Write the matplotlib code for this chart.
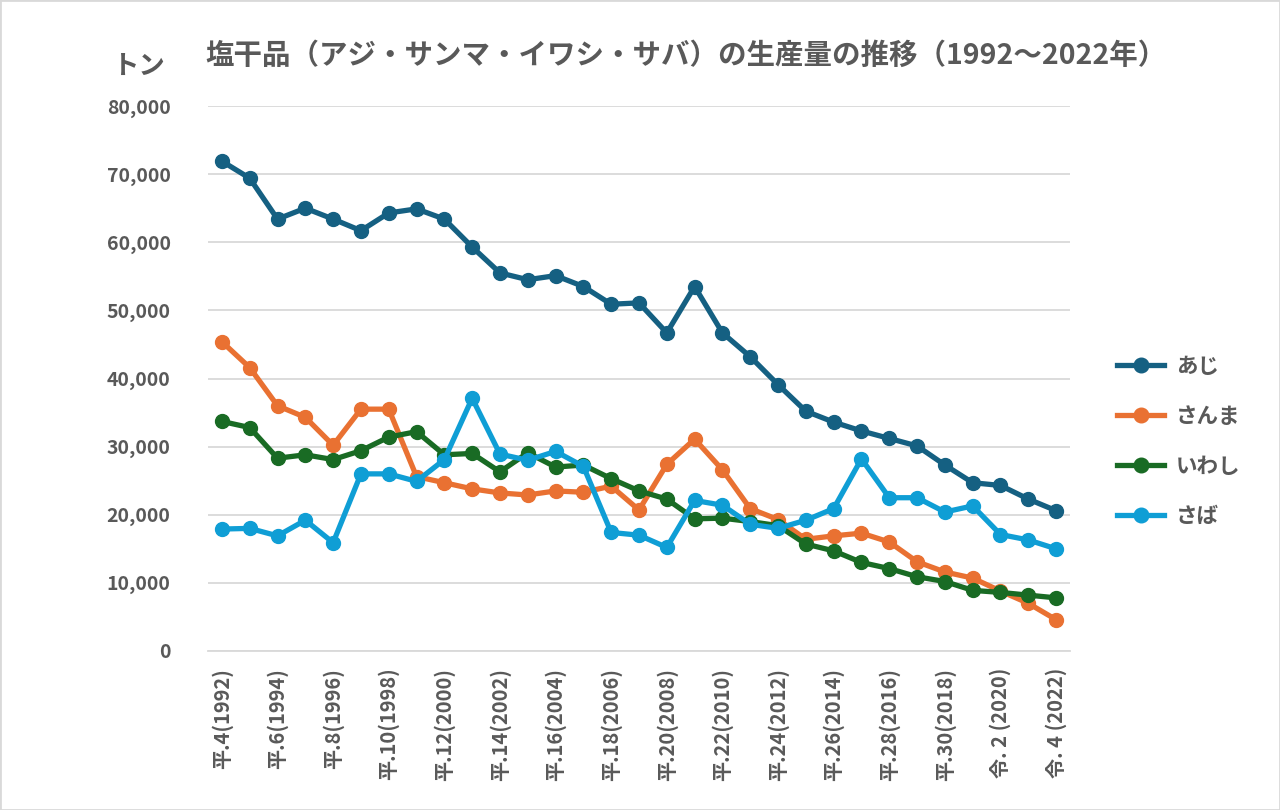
import matplotlib
matplotlib.use("Agg")
import matplotlib.pyplot as plt
from matplotlib.patches import Rectangle

plt.rcParams['font.family'] = ['Noto Sans CJK JP', 'DejaVu Sans']

years = list(range(1992, 2023))
tick_labels = ['平.4(1992)', '平.6(1994)', '平.8(1996)', '平.10(1998)', '平.12(2000)',
               '平.14(2002)', '平.16(2004)', '平.18(2006)', '平.20(2008)', '平.22(2010)',
               '平.24(2012)', '平.26(2014)', '平.28(2016)', '平.30(2018)',
               '令. 2 (2020)', '令. 4 (2022)']

aji = [71900, 69400, 63400, 65000, 63400, 61700, 64300, 64900, 63400, 59300,
       55500, 54500, 55100, 53500, 50900, 51100, 46700, 53500, 46700, 43200,
       39100, 35200, 33600, 32300, 31200, 30100, 27300, 24700, 24300, 22300, 20600]
sanma = [45400, 41600, 36000, 34300, 30200, 35500, 35500, 25600, 24700, 23800,
         23200, 22900, 23500, 23300, 24200, 20700, 27400, 31100, 26600, 20900,
         19300, 16400, 16900, 17300, 16000, 13100, 11600, 10700, 8800, 7000, 4600]
iwashi = [33700, 32800, 28300, 28800, 28100, 29400, 31400, 32200, 28800, 29000,
          26300, 29100, 27000, 27300, 25300, 23500, 22300, 19400, 19500, 19000,
          18400, 15700, 14700, 13000, 12100, 10900, 10200, 8900, 8600, 8200, 7800]
saba = [17900, 18000, 16900, 19200, 15900, 26000, 26000, 24900, 28100, 37100,
        28900, 28000, 29300, 27100, 17400, 17000, 15200, 22100, 21400, 18600,
        18000, 19200, 20900, 28200, 22500, 22500, 20400, 21300, 17100, 16300, 15000]

series = [('あじ', aji, '#156082'), ('さんま', sanma, '#E97132'),
          ('いわし', iwashi, '#196B24'), ('さば', saba, '#0F9ED5')]

fig = plt.figure(figsize=(12.8, 8.1), dpi=100)
ax = fig.add_axes([208/1280, 1-651/810, (1070-208)/1280, (651-106)/810])

x = list(range(len(years)))
for name, vals, col in series:
    ax.plot(x, vals, color=col, lw=3.8, marker='o', ms=10, label=name,
            solid_joinstyle='round', zorder=3)

ax.set_xlim(-0.5, 30.5)
ax.set_ylim(0, 80000)
ax.set_yticks(range(0, 80001, 10000))
ax.set_yticklabels([f'{v:,}' for v in range(0, 80001, 10000)])
ax.grid(axis='y', color='#d9d9d9', lw=1.3, zorder=0)
ax.set_axisbelow(True)
for s in ['top', 'right', 'left']:
    ax.spines[s].set_visible(False)
ax.spines['bottom'].set_color('#d9d9d9')
ax.spines['bottom'].set_linewidth(1.3)

ax.set_xticks(x[::2])
ax.set_xticklabels(tick_labels, rotation=90, fontsize=14.5, fontweight='bold', color='#595959')
ax.tick_params(axis='x', length=0, pad=12)
ax.tick_params(axis='y', length=0, pad=27, labelsize=14, labelcolor='#595959')
for lab in ax.get_yticklabels():
    lab.set_fontweight('bold')

fig.text(205/1280, 1-56/810, '塩干品（アジ・サンマ・イワシ・サバ）の生産量の推移（1992～2022年）',
         fontsize=20.5, fontweight='bold', color='#595959', va='center', ha='left')
fig.text(139/1280, 1-66/810, 'トン', fontsize=19, fontweight='bold', color='#595959',
         va='center', ha='center')

leg = ax.legend(loc='center left', bbox_to_anchor=(1.032, 0.385), frameon=False,
                fontsize=15.5, labelspacing=1.35, handlelength=2.2, handletextpad=0.55,
                markerscale=1.05)
for t in leg.get_texts():
    t.set_color('#595959')
    t.set_fontweight('bold')

fig.patches.append(Rectangle((0, 0), 1, 1, transform=fig.transFigure, fill=False,
                             edgecolor='#d9d9d9', lw=2))

fig.savefig('out.png', dpi=100, facecolor='white')
